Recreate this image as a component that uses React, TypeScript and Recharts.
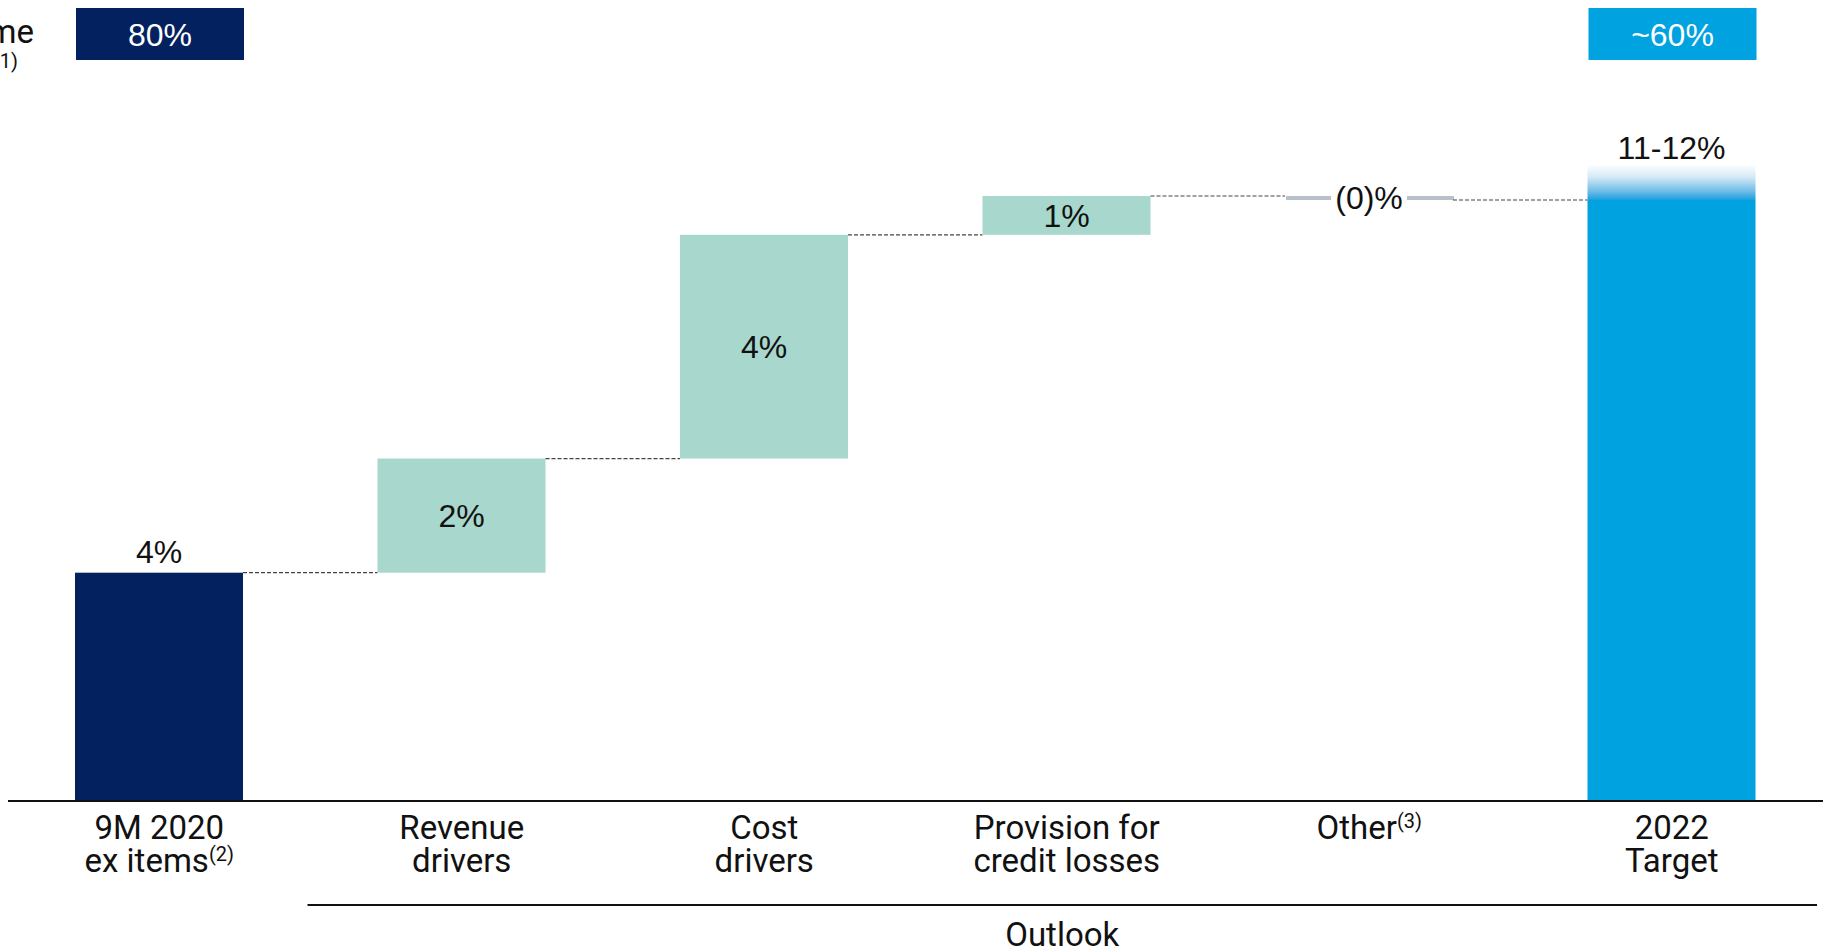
import { Bar, BarChart, LabelList, XAxis, YAxis } from 'recharts';

const categories = ['9M 2020 ex items', 'Revenue drivers', 'Cost drivers', 'Provision for credit losses', 'Other', '2022 Target'];
const tickLines = [['9M 2020', 'ex items'], ['Revenue', 'drivers'], ['Cost', 'drivers'], ['Provision for', 'credit losses'], ['Other'], ['2022', 'Target']];
const tickSups = [['', '(2)'], ['', ''], ['', ''], ['', ''], ['(3)'], ['', '']];
const kinds = ['total', 'step', 'step', 'step', 'step', 'total'];
const values = [4.0, 2.0, 3.92, 0.68, -0.07, 10.53];
const rangeAdds = [0, 0, 0, 0, 0, 0.62];
const valueLabels = ['4%', '2%', '4%', '1%', '(0)%', '11-12%'];
const ratioLabels = ['80%', '', '', '', '', '~60%'];
const barColors = ['#03205F', '#A8D7CD', '#A8D7CD', '#A8D7CD', '#B8C1CA', '#00A2E0'];
const outlookLabel = 'Outlook';

const W = 1827;
const H = 951;
const MARGIN = { top: 59, right: 4, bottom: 0, left: 8 };
const BAND = (W - MARGIN.left - MARGIN.right) / categories.length;
const labelFont = '"Liberation Sans", Arial, sans-serif';
const axisFont = 'Roboto, sans-serif';

let running = 0;
const rows = categories.map((name, i) => {
  const v = values[i];
  let base = 0;
  let delta = v;
  let down = false;
  if (kinds[i] === 'total') {
    running = v;
  } else {
    const end = running + v;
    base = Math.min(running, end);
    delta = Math.abs(v);
    down = v < 0;
    running = end;
  }
  const isRange = rangeAdds[i] > 0;
  return {
    name,
    base,
    delta,
    range: rangeAdds[i],
    down,
    color: barColors[i],
    connect: i < categories.length - 1,
    topLabel: i === 0 ? valueLabels[i] : '',
    midLabel: kinds[i] === 'step' ? valueLabels[i] : '',
    rangeLabel: isRange ? valueLabels[i] : '',
    ratio: ratioLabels[i],
  };
});

function StepShape(props: any) {
  const { x, y, width, height, payload } = props;
  const gap = BAND - width;
  const endY = payload.down ? y + height : y;
  const tiny = height < 8;
  return (
    <g>
      {tiny ? (
        <g>
          <rect x={x + 1} y={y} width={45} height={Math.max(height, 4)} fill={payload.color} />
          <rect x={x + width - 46} y={y} width={47} height={Math.max(height, 4)} fill={payload.color} />
        </g>
      ) : (
        <rect x={x} y={y} width={width} height={height} fill={payload.color} />
      )}
      {payload.connect && (
        <line x1={x + width} x2={x + width + gap} y1={endY} y2={endY} stroke="#444" strokeWidth={1.2} strokeDasharray="4 2" />
      )}
    </g>
  );
}

function RatioBox(props: any) {
  const { value } = props;
  if (!value) return null;
  const vb = props.viewBox ?? props;
  const i = ratioLabels.indexOf(value);
  return (
    <g>
      <rect x={vb.x + 1} y={8} width={vb.width} height={52} fill={barColors[i]} />
      <text x={vb.x + 1 + vb.width / 2} y={46} textAnchor="middle" fill="#fff" fontFamily={labelFont} fontSize={32}>
        {value}
      </text>
    </g>
  );
}

function CategoryTick({ x, y, payload }: any) {
  const i = categories.indexOf(payload.value);
  const lines = tickLines[i] ?? [];
  const sups = tickSups[i] ?? [];
  const bracketStart = x - BAND / 2 - 3;
  const bracketEnd = x + 4.5 * BAND - 6;
  return (
    <g>
      <text textAnchor="middle" fontFamily={axisFont} fontSize={33} fill="#111">
        {lines.map((line, k) => (
          <tspan key={k} x={x} y={y + 38 + k * 33}>
            {line}
            {sups[k] ? <tspan fontSize={20} dy={-11}>{sups[k]}</tspan> : null}
          </tspan>
        ))}
      </text>
      {i === 1 && (
        <g>
          <line x1={bracketStart} x2={bracketEnd} y1={y + 104} y2={y + 104} stroke="#111" strokeWidth={2} />
          <text x={(bracketStart + bracketEnd) / 2} y={y + 145} textAnchor="middle" fontFamily={axisFont} fontSize={33} fill="#111">
            {outlookLabel}
          </text>
        </g>
      )}
    </g>
  );
}

export default function App() {
  return (
    <div style={{ position: 'absolute', left: 0, top: 0, width: W, height: H, background: '#fff', overflow: 'hidden' }}>
      <BarChart width={W} height={H} data={rows} margin={MARGIN} barSize={168}>
        <defs>
          <linearGradient id="targetFade" x1="0" y1="0" x2="0" y2="1">
            <stop offset="0%" stopColor="#ffffff" />
            <stop offset="35%" stopColor="#d4e9f6" />
            <stop offset="75%" stopColor="#6fbde8" />
            <stop offset="100%" stopColor="#1aa0de" />
          </linearGradient>
        </defs>
        <XAxis
          dataKey="name"
          interval={0}
          height={150}
          tickLine={false}
          tickSize={0}
          tickMargin={0}
          axisLine={{ stroke: '#111', strokeWidth: 2 }}
          tick={<CategoryTick />}
        />
        <YAxis hide domain={[0, 13]} />
        <Bar dataKey="base" stackId="w" fill="transparent" isAnimationActive={false} />
        <Bar dataKey="delta" stackId="w" shape={<StepShape />} isAnimationActive={false}>
          <LabelList dataKey="topLabel" position="top" offset={10} fill="#111" fontFamily={labelFont} fontSize={32} />
          <LabelList dataKey="midLabel" position="center" fill="#111" fontFamily={labelFont} fontSize={32} />
          <LabelList dataKey="ratio" content={<RatioBox />} />
        </Bar>
        <Bar dataKey="range" stackId="w" fill="url(#targetFade)" isAnimationActive={false}>
          <LabelList dataKey="rangeLabel" position="top" offset={6} fill="#111" fontFamily={labelFont} fontSize={32} />
        </Bar>
      </BarChart>
      <svg width={200} height={100} style={{ position: 'absolute', left: 0, top: 0 }}>
        <text x={6} y={1} textAnchor="end" fontFamily={axisFont} fontSize={33} fill="#111">Efficiency</text>
        <text x={34} y={43} textAnchor="end" fontFamily={axisFont} fontSize={33} fill="#111">Cost/income</text>
        <text x={18} y={68} textAnchor="end" fontFamily={axisFont} fontSize={20} fill="#111">(1)</text>
      </svg>
    </div>
  );
}
